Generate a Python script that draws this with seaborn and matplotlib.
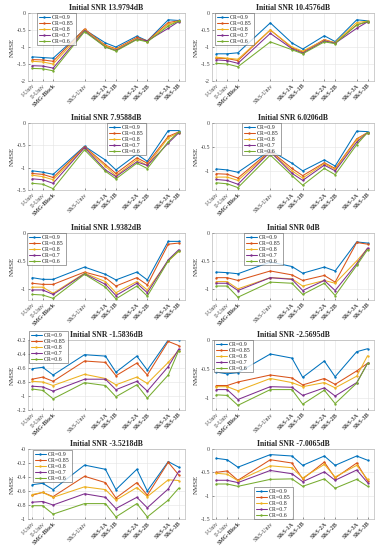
import numpy as np
import pandas as pd
import matplotlib
matplotlib.use("Agg")
import matplotlib.pyplot as plt
import seaborn as sns

sns.set_style("ticks")
plt.rcParams['font.family'] = ['Liberation Serif', 'DejaVu Serif']
plt.rcParams['axes.unicode_minus'] = False

# x categories and their positions along the axis
categories = ["I-Univ", "II-Univ", "SMG-Block", "S&S-Univ", "S&S-1A", "S&S-1B",
              "S&S-2A", "S&S-2B", "S&S-3A", "S&S-3B"]
positions = [1, 2, 3, 6, 8, 9, 11, 12, 14, 15]
bold_labels = ["SMG-Block", "S&S-1A", "S&S-1B", "S&S-2A", "S&S-2B", "S&S-3A", "S&S-3B"]
cr_labels = ["CR=0.9", "CR=0.85", "CR=0.8", "CR=0.7", "CR=0.6"]
colors = ["#0072BD", "#D95319", "#EDB120", "#7E2F8E", "#77AC30"]

titles = ["Initial SNR 13.9794dB", "Initial SNR 10.4576dB", "Initial SNR 7.9588dB",
          "Initial SNR 6.0206dB", "Initial SNR 1.9382dB", "Initial SNR 0dB",
          "Initial SNR -1.5836dB", "Initial SNR -2.5695dB", "Initial SNR -3.5218dB",
          "Initial SNR -7.0065dB"]

snr_13 = [
    [-1.29, -1.31, -1.33, -0.49, -0.88, -1.00, -0.68, -0.82, -0.20, -0.22],
    [-1.37, -1.38, -1.42, -0.47, -0.95, -1.05, -0.72, -0.82, -0.28, -0.23],
    [-1.42, -1.44, -1.50, -0.50, -0.97, -1.07, -0.75, -0.84, -0.33, -0.24],
    [-1.55, -1.56, -1.62, -0.52, -1.00, -1.10, -0.77, -0.82, -0.45, -0.25],
    [-1.63, -1.64, -1.70, -0.55, -1.00, -1.12, -0.78, -0.85, -0.38, -0.24],
]
snr_10 = [
    [-1.20, -1.20, -1.17, -0.29, -0.88, -1.06, -0.67, -0.84, -0.20, -0.23],
    [-1.33, -1.34, -1.40, -0.50, -1.02, -1.15, -0.78, -0.88, -0.35, -0.26],
    [-1.30, -1.33, -1.36, -0.50, -1.00, -1.12, -0.80, -0.87, -0.28, -0.24],
    [-1.38, -1.40, -1.48, -0.60, -1.05, -1.18, -0.82, -0.89, -0.45, -0.26],
    [-1.48, -1.50, -1.58, -0.85, -1.08, -1.20, -0.85, -0.90, -0.35, -0.25],
]
snr_7 = [
    [-1.07, -1.10, -1.15, -0.52, -0.83, -1.05, -0.70, -0.86, -0.17, -0.17],
    [-1.13, -1.15, -1.22, -0.53, -0.93, -1.13, -0.78, -0.90, -0.30, -0.20],
    [-1.17, -1.20, -1.27, -0.55, -0.97, -1.18, -0.82, -0.95, -0.33, -0.22],
    [-1.25, -1.27, -1.35, -0.55, -1.05, -1.20, -0.87, -0.95, -0.45, -0.22],
    [-1.35, -1.37, -1.47, -0.60, -1.08, -1.25, -0.90, -1.02, -0.42, -0.20],
]
snr_6 = [
    [-0.96, -0.98, -1.03, -0.57, -0.84, -1.00, -0.77, -0.90, -0.17, -0.18],
    [-1.06, -1.07, -1.15, -0.58, -0.95, -1.10, -0.83, -0.95, -0.33, -0.20],
    [-1.13, -1.13, -1.20, -0.60, -1.00, -1.15, -0.85, -0.97, -0.35, -0.20],
    [-1.18, -1.20, -1.28, -0.60, -1.05, -1.20, -0.88, -1.00, -0.40, -0.20],
    [-1.25, -1.27, -1.35, -0.67, -1.10, -1.30, -0.95, -1.08, -0.45, -0.20],
]
snr_2 = [
    [-0.80, -0.83, -0.83, -0.61, -0.74, -0.84, -0.70, -0.84, -0.15, -0.15],
    [-0.90, -0.92, -0.92, -0.70, -0.80, -0.95, -0.80, -0.93, -0.20, -0.18],
    [-0.97, -0.97, -1.08, -0.72, -0.87, -1.07, -0.87, -1.02, -0.50, -0.33],
    [-1.02, -1.02, -1.10, -0.73, -0.92, -1.12, -0.90, -1.07, -0.48, -0.30],
    [-1.10, -1.11, -1.17, -0.74, -0.97, -1.18, -0.95, -1.13, -0.50, -0.32],
]
snr_0 = [
    [-0.70, -0.71, -0.73, -0.52, -0.60, -0.72, -0.61, -0.68, -0.16, -0.18],
    [-0.80, -0.80, -0.85, -0.68, -0.75, -0.85, -0.76, -0.88, -0.17, -0.20],
    [-0.87, -0.87, -1.00, -0.80, -0.82, -0.95, -0.85, -0.90, -0.50, -0.28],
    [-0.90, -0.90, -1.03, -0.80, -0.83, -1.03, -0.85, -1.03, -0.55, -0.27],
    [-0.95, -0.95, -1.15, -0.88, -0.90, -1.10, -0.90, -1.12, -0.58, -0.30],
]
snr_m1 = [
    [-0.61, -0.59, -0.70, -0.41, -0.43, -0.66, -0.43, -0.63, -0.20, -0.20],
    [-0.76, -0.73, -0.79, -0.50, -0.52, -0.71, -0.53, -0.70, -0.22, -0.28],
    [-0.79, -0.80, -0.85, -0.69, -0.75, -0.84, -0.73, -0.82, -0.52, -0.35],
    [-0.86, -0.87, -0.93, -0.76, -0.76, -0.91, -0.79, -0.93, -0.58, -0.33],
    [-0.90, -0.92, -1.04, -0.81, -0.85, -1.01, -0.84, -1.03, -0.70, -0.35],
]
snr_m2 = [
    [-0.55, -0.58, -0.56, -0.24, -0.31, -0.64, -0.36, -0.63, -0.20, -0.15],
    [-0.78, -0.78, -0.72, -0.60, -0.65, -0.77, -0.66, -0.76, -0.53, -0.40],
    [-0.80, -0.80, -0.87, -0.66, -0.73, -0.80, -0.73, -0.82, -0.62, -0.27],
    [-0.85, -0.85, -1.02, -0.80, -0.81, -0.95, -0.82, -0.96, -0.73, -0.40],
    [-0.94, -0.95, -1.12, -0.85, -0.85, -1.10, -0.86, -1.09, -0.74, -0.40],
]
snr_m3 = [
    [-0.51, -0.49, -0.58, -0.23, -0.29, -0.58, -0.29, -0.60, -0.18, -0.26],
    [-0.66, -0.62, -0.68, -0.39, -0.48, -0.70, -0.48, -0.66, -0.19, -0.37],
    [-0.65, -0.62, -0.69, -0.54, -0.58, -0.73, -0.55, -0.68, -0.44, -0.45],
    [-0.76, -0.75, -0.80, -0.64, -0.69, -0.85, -0.69, -0.84, -0.57, -0.32],
    [-0.81, -0.81, -0.93, -0.78, -0.78, -0.97, -0.78, -0.97, -0.73, -0.56],
]
snr_m7 = [
    [-0.20, -0.23, -0.39, -0.12, -0.15, -0.35, -0.15, -0.35, -0.15, -0.24],
    [-0.50, -0.47, -0.67, -0.23, -0.30, -0.64, -0.28, -0.62, -0.30, -0.68],
    [-0.52, -0.54, -0.68, -0.36, -0.40, -0.62, -0.33, -0.60, -0.35, -0.65],
    [-0.67, -0.67, -0.72, -0.46, -0.53, -0.70, -0.49, -0.67, -0.45, -0.72],
    [-0.75, -0.75, -0.80, -0.65, -0.64, -0.80, -0.64, -0.84, -0.65, -0.80],
]
panels = [snr_13, snr_10, snr_7, snr_6, snr_2, snr_0, snr_m1, snr_m2, snr_m3, snr_m7]

ylims = [(-2, 0), (-2, 0), (-1.5, 0), (-1.4, 0), (-1.2, 0), (-1.2, 0),
         (-1.2, -0.2), (-1.2, 0), (-1, 0), (-1.5, 0)]
yticks = [np.arange(-2, 0.01, 0.5), np.arange(-2, 0.01, 0.5), np.arange(-1.5, 0.01, 0.5),
          [-1, -0.5, 0], [-1, -0.5, 0], [-1, -0.5, 0],
          np.arange(-1.2, -0.19, 0.2), [-1, -0.5, 0], np.arange(-1, 0.01, 0.2),
          np.arange(-1.5, 0.01, 0.5)]

# axes boxes in pixels (left, top, right, bottom)
W, H = 383, 550
col_x = [(28, 185), (212, 374)]
row_y = [(13, 81), (123, 190), (233, 300), (340, 410), (449, 519)]
# legend upper-left corners in pixels
legend_pos = [(37, 13), (215, 13), (107, 123), (242, 123), (27, 233),
              (244, 233), (29, 331), (214, 340), (33, 450), (254, 487)]

fig = plt.figure(figsize=(W / 100, H / 100), dpi=100)

for i, vals in enumerate(panels):
    r, c = divmod(i, 2)
    x0, x1 = col_x[c]
    y0, y1 = row_y[r]
    ax = fig.add_axes([x0 / W, 1 - y1 / H, (x1 - x0) / W, (y1 - y0) / H])
    df = pd.DataFrame({
        "pos": positions * len(cr_labels),
        "NMSE": np.concatenate(vals),
        "CR": np.repeat(cr_labels, len(positions)),
    })
    sns.lineplot(data=df, x="pos", y="NMSE", hue="CR", palette=colors,
                 hue_order=cr_labels, marker="o", markersize=1.7, markeredgewidth=0,
                 linewidth=0.75, ax=ax, legend=True)
    ax.set_xlim(0.6, 15.6)
    ax.set_ylim(*ylims[i])
    ax.set_yticks(yticks[i])
    ax.set_yticklabels(["%g" % round(t, 2) for t in yticks[i]])
    ax.set_xticks(positions)
    ax.set_xticklabels(categories, rotation=45, ha="right", rotation_mode="anchor")
    for lab in ax.get_xticklabels():
        if lab.get_text() in bold_labels:
            lab.set_fontweight("bold")
            lab.set_color("#222222")
        else:
            lab.set_color("#888888")
    ax.tick_params(labelsize=4.3, length=1.5, width=0.4, direction="in", pad=1.5,
                   colors="#444444")
    ax.grid(True, color="#e3e3e3", linewidth=0.4)
    for s in ax.spines.values():
        s.set_linewidth(0.4)
        s.set_color("#aaaaaa")
    ax.set_xlabel("")
    ax.set_ylabel("NMSE", fontsize=5, labelpad=1, color="#333333")
    ax.set_title(titles[i], fontsize=5.6, fontweight="bold", pad=2)
    lx, ly = legend_pos[i]
    leg = ax.legend(loc="upper left", bbox_to_anchor=(lx / W, 1 - ly / H),
                    bbox_transform=fig.transFigure, fontsize=4.2, frameon=True,
                    fancybox=False, borderpad=0.3, labelspacing=0.15,
                    handlelength=1.9, handletextpad=0.4, borderaxespad=0)
    leg.get_frame().set_linewidth(0.4)
    leg.get_frame().set_edgecolor("#333333")

fig.savefig("out.png", dpi=100)
